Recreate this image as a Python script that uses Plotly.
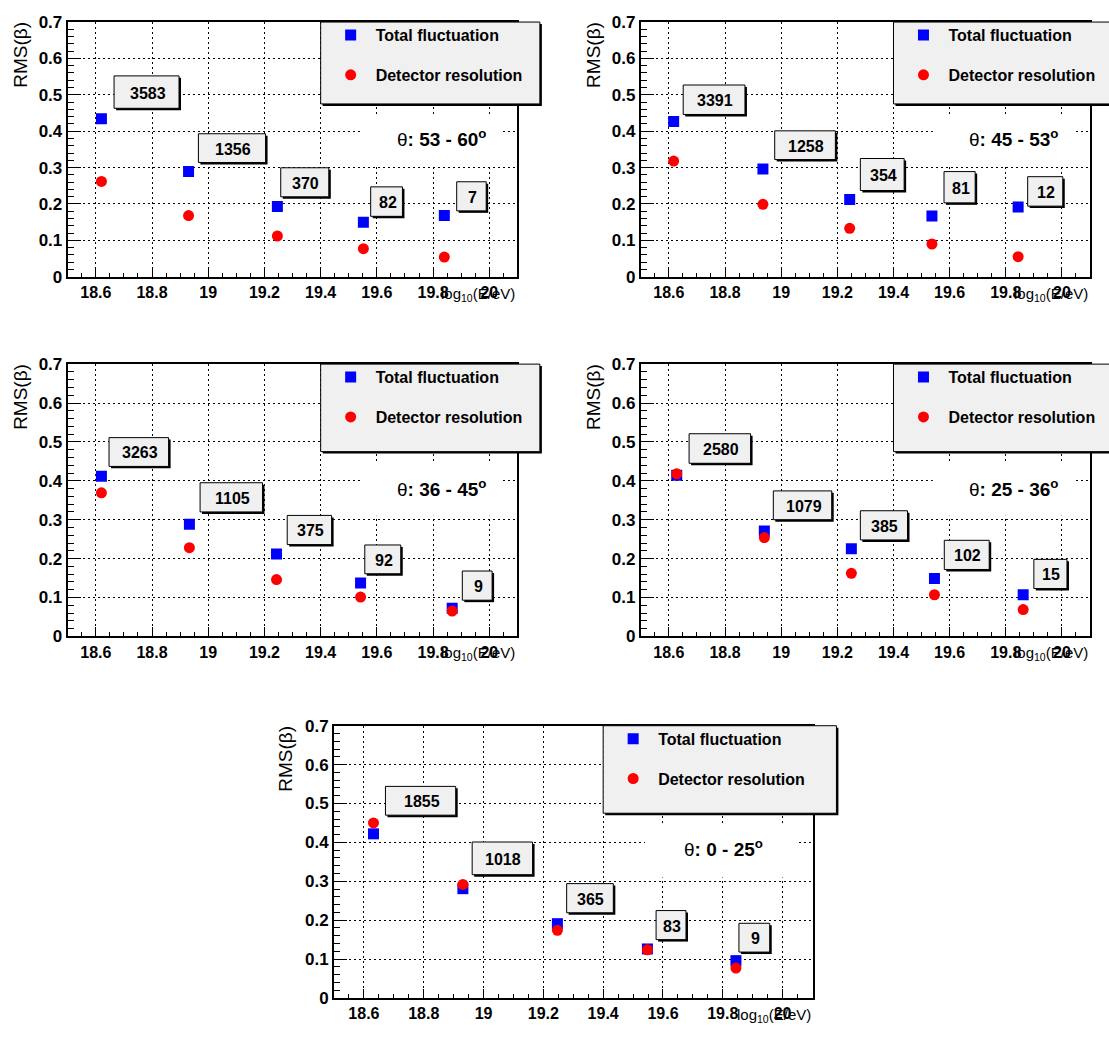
import plotly.graph_objects as go

# ---------------- data ----------------
theta_labels = ["53 - 60", "45 - 53", "36 - 45", "25 - 36", "0 - 25"]

energy_p1 = [18.620, 18.930, 19.246, 19.552, 19.840]
energy_p2 = [18.617, 18.935, 19.244, 19.537, 19.844]
energy_p3 = [18.620, 18.933, 19.243, 19.542, 19.868]
energy_p4 = [18.628, 18.940, 19.250, 19.546, 19.862]
energy_p5 = [18.632, 18.931, 19.247, 19.548, 19.844]

total_p1 = [0.434, 0.289, 0.193, 0.150, 0.168]
total_p2 = [0.427, 0.296, 0.212, 0.167, 0.192]
total_p3 = [0.412, 0.288, 0.212, 0.137, 0.072]
total_p4 = [0.414, 0.271, 0.225, 0.149, 0.107]
total_p5 = [0.422, 0.281, 0.191, 0.126, 0.096]

detector_p1 = [0.262, 0.168, 0.112, 0.077, 0.054]
detector_p2 = [0.318, 0.199, 0.133, 0.090, 0.055]
detector_p3 = [0.369, 0.228, 0.146, 0.101, 0.065]
detector_p4 = [0.418, 0.254, 0.162, 0.107, 0.069]
detector_p5 = [0.450, 0.292, 0.174, 0.124, 0.077]

counts_p1 = [3583, 1356, 370, 82, 7]
counts_p2 = [3391, 1258, 354, 81, 12]
counts_p3 = [3263, 1105, 375, 92, 9]
counts_p4 = [2580, 1079, 385, 102, 15]
counts_p5 = [1855, 1018, 365, 83, 9]

x_tick_vals = [18.6, 18.8, 19.0, 19.2, 19.4, 19.6, 19.8, 20.0]
y_tick_vals = [0, 0.1, 0.2, 0.3, 0.4, 0.5, 0.6, 0.7]

energies = [energy_p1, energy_p2, energy_p3, energy_p4, energy_p5]
totals = [total_p1, total_p2, total_p3, total_p4, total_p5]
detectors = [detector_p1, detector_p2, detector_p3, detector_p4, detector_p5]
counts = [counts_p1, counts_p2, counts_p3, counts_p4, counts_p5]

# ---------------- layout (pixels) ----------------
W, H = 1109, 1044
X_RANGE = [18.5, 20.1]
Y_RANGE = [0.0, 0.7]
# plot-area boxes in pixels: (left, right, top, bottom)
panel_px = [
    (67.7, 517.4, 13.3, 272.7),
    (640.8, 1090.0, 13.3, 272.7),
    (67.7, 517.4, 361.7, 639.0),
    (640.8, 1090.0, 361.7, 639.0),
    (334.0, 812.5, 730.0, 1007.3),
]
# count boxes (data coords: x0, x1, y0, y1)
box_pos = [
    [(18.665, 18.896, 0.463, 0.552), (18.965, 19.204, 0.314, 0.393), (19.258, 19.429, 0.2196, 0.2995),
     (19.578, 19.691, 0.166, 0.247), (19.884, 19.989, 0.181, 0.261)],
    [(18.651, 18.871, 0.446, 0.527), (18.977, 19.193, 0.322, 0.401), (19.282, 19.438, 0.237, 0.325),
     (19.580, 19.691, 0.203, 0.289), (19.878, 20.003, 0.194, 0.275)],
    [(18.647, 18.859, 0.437, 0.511), (18.971, 19.193, 0.320, 0.395), (19.281, 19.439, 0.236, 0.311),
     (19.557, 19.685, 0.161, 0.235), (19.904, 20.010, 0.093, 0.168)],
    [(18.672, 18.891, 0.445, 0.521), (18.972, 19.180, 0.300, 0.374), (19.282, 19.450, 0.248, 0.323),
     (19.581, 19.741, 0.172, 0.247), (19.900, 20.018, 0.123, 0.198)],
    [(18.672, 18.907, 0.470, 0.544), (18.962, 19.164, 0.317, 0.401), (19.278, 19.434, 0.219, 0.294),
     (19.577, 19.677, 0.150, 0.2247), (19.854, 19.957, 0.118, 0.192)],
]
theta_y = [0.380, 0.380, 0.381, 0.381, 0.385]
LEG_BOX = (19.40, 20.18, 0.475, 0.70)
WHITE_BOX = (19.54, 20.045, 0.31, 0.446)

FONT = "Liberation Sans, Arial, Helvetica, sans-serif"
BOX_FILL = "#f0f0f0"


def dx(k, xv):
    l, r, t, b = panel_px[k]
    return l + (xv - X_RANGE[0]) / (X_RANGE[1] - X_RANGE[0]) * (r - l)


def dy(k, yv):
    l, r, t, b = panel_px[k]
    return b - (yv - Y_RANGE[0]) / (Y_RANGE[1] - Y_RANGE[0]) * (b - t)


def px2paper(x, y):
    return x / W, 1 - y / H


fig = go.Figure()
shapes = []
annotations = []
layout = dict(
    width=W, height=H, margin=dict(l=0, r=0, t=0, b=0),
    paper_bgcolor="white", plot_bgcolor="white", showlegend=True,
    font=dict(family=FONT, color="black"),
)


def rect_px(x0, y0, x1, y1, **kw):
    a0, b0 = px2paper(x0, y1)
    a1, b1 = px2paper(x1, y0)
    d = dict(type="rect", xref="paper", yref="paper", x0=a0, x1=a1, y0=b0, y1=b1, layer="above")
    d.update(kw)
    return d


for k in range(5):
    sfx = "" if k == 0 else str(k + 1)
    l, r, t, b = panel_px[k]
    legname = "legend" + sfx
    fig.add_trace(go.Scatter(
        x=energies[k], y=totals[k], mode="markers", name="<b>Total fluctuation</b>",
        marker=dict(symbol="square", size=11, color="#0000ff"),
        xaxis="x" + sfx, yaxis="y" + sfx, legend=legname, legendgroup=f"t{k}", hoverinfo="skip"))
    fig.add_trace(go.Scatter(
        x=energies[k], y=detectors[k], mode="markers", name="<b>Detector resolution</b>",
        marker=dict(symbol="circle", size=11, color="#ff0000"),
        xaxis="x" + sfx, yaxis="y" + sfx, legend=legname, legendgroup=f"d{k}", hoverinfo="skip"))

    common = dict(showline=True, linewidth=2, linecolor="black", mirror=True, ticks="inside",
                  tickcolor="black", tickwidth=1, showgrid=True, gridcolor="black", gridwidth=1,
                  griddash="2px,3px", zeroline=False, fixedrange=True)
    layout["xaxis" + sfx] = dict(
        domain=[l / W, r / W], anchor="y" + sfx, range=X_RANGE, tickvals=x_tick_vals,
        ticktext=[f"{v:g}" for v in x_tick_vals], ticklen=9,
        minor=dict(dtick=0.05, tick0=18.5, ticklen=4, ticks="inside", tickcolor="black", showgrid=False),
        tickfont=dict(family=FONT, size=16, weight="bold", color="black"), **common)
    layout["yaxis" + sfx] = dict(
        domain=[1 - b / H, 1 - t / H], anchor="x" + sfx, range=Y_RANGE, tickvals=y_tick_vals,
        ticktext=[f"{v:g}" for v in y_tick_vals], ticklen=13,
        minor=dict(dtick=0.02, tick0=0, ticklen=6, ticks="inside", tickcolor="black", showgrid=False),
        tickfont=dict(family=FONT, size=17, weight="bold", color="black"), **common)

    # white pave behind theta label (hides grid)
    shapes.append(dict(type="rect", xref="x" + sfx, yref="y" + sfx,
                       x0=WHITE_BOX[0], x1=WHITE_BOX[1], y0=WHITE_BOX[2], y1=WHITE_BOX[3],
                       fillcolor="white", line=dict(width=0), layer="between"))

    # legend box
    lx0, lx1 = dx(k, LEG_BOX[0]), dx(k, LEG_BOX[1])
    ly1, ly0 = dy(k, LEG_BOX[2]), dy(k, LEG_BOX[3])
    shapes.append(rect_px(lx0 + 2, ly0 + 2, lx1 + 2, ly1 + 2, fillcolor="black", line=dict(width=0)))
    shapes.append(rect_px(lx0, ly0, lx1, ly1, fillcolor=BOX_FILL, line=dict(color="black", width=1)))
    lgx, lgy = px2paper(lx0 + 5, ly0 - 4)
    layout[legname] = dict(x=lgx, y=lgy, xanchor="left", yanchor="top", bgcolor="rgba(0,0,0,0)",
                           borderwidth=0, tracegroupgap=16, itemwidth=40,
                           font=dict(family=FONT, size=16, color="black"))

    # count boxes
    for (bx0, bx1, by0, by1), n in zip(box_pos[k], counts[k]):
        X0, X1 = dx(k, bx0), dx(k, bx1)
        Y0, Y1 = dy(k, by1), dy(k, by0)
        shapes.append(rect_px(X0 + 2, Y0 + 2, X1 + 2, Y1 + 2, fillcolor="black", line=dict(width=0)))
        shapes.append(rect_px(X0, Y0, X1, Y1, fillcolor=BOX_FILL, line=dict(color="black", width=1)))
        cx, cy = px2paper((X0 + X1) / 2 + 1, (Y0 + Y1) / 2 + 1)
        annotations.append(dict(xref="paper", yref="paper", x=cx, y=cy, xanchor="center", yanchor="middle",
                                text=f"<b>{n}</b>", showarrow=False,
                                font=dict(family=FONT, size=16, color="black")))

    # theta label
    tx, ty = px2paper(dx(k, 19.663), dy(k, theta_y[k]))
    annotations.append(dict(xref="paper", yref="paper", x=tx, y=ty, xanchor="left", yanchor="middle",
                            text=f"θ<b>: {theta_labels[k]}<sup>o</sup></b>", showarrow=False,
                            font=dict(family=FONT, size=19, color="black")))

    # axis titles
    ax, ay = px2paper(r, b + 6)
    annotations.append(dict(xref="paper", yref="paper", x=ax, y=ay, xanchor="right", yanchor="top",
                            text="log<sub>10</sub>(E/eV)", showarrow=False,
                            font=dict(family=FONT, size=15, color="black")))
    yx, yy = px2paper(l - 48, t - 2)
    annotations.append(dict(xref="paper", yref="paper", x=yx, y=yy, xanchor="center", yanchor="top",
                            text="RMS(β)", textangle=-90, showarrow=False,
                            font=dict(family=FONT, size=19, color="black")))

layout["shapes"] = shapes
layout["annotations"] = annotations
fig.update_layout(**layout)
fig.write_html("out.html")
